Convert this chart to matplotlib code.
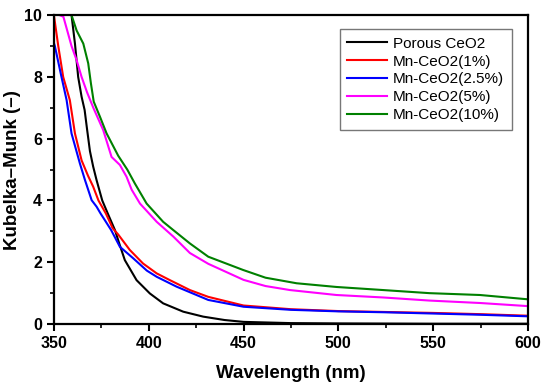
import numpy as np
import matplotlib
matplotlib.use("Agg")
import matplotlib.pyplot as plt
from matplotlib.ticker import MultipleLocator

plt.rcParams['font.family'] = ['Liberation Sans', 'DejaVu Sans']

# wavelength (nm) / Kubelka-Munk values
wl_ceo2 = [355, 359.3, 361.1, 362.8, 364.6, 366.2, 367.5, 369, 370.7, 372.5, 375.5, 378.6,
           382.2, 384.5, 387.4, 393.6, 400.6, 407.6, 418.2, 428.7, 440, 450, 475, 500, 550, 600]
km_ceo2 = [12.0, 10.0, 9.08, 8.0, 7.36, 6.93, 6.3, 5.6, 5.1, 4.66, 4.0, 3.55,
           3.04, 2.6, 2.07, 1.42, 0.99, 0.67, 0.4, 0.24, 0.13, 0.07, 0.03, 0.02, 0.01, 0.01]

wl_mn1 = [350, 352.3, 354.9, 358.4, 361.1, 364.6, 368, 370.7, 373.5, 377.4, 381, 383.9,
          390, 397, 404.2, 411.2, 421.7, 431.4, 450, 475, 500, 525, 550, 575, 600]
km_mn1 = [10.0, 9.0, 8.0, 7.25, 6.17, 5.3, 4.8, 4.45, 4.0, 3.58, 3.1, 2.9,
          2.4, 1.96, 1.64, 1.42, 1.1, 0.88, 0.6, 0.48, 0.42, 0.39, 0.36, 0.32, 0.27]

wl_mn25 = [350, 350.5, 354, 356.7, 359.3, 363.7, 366.4, 369.9, 372.5, 374.6, 377, 380.2,
           384.8, 391.8, 399, 404.2, 414.7, 431.4, 450, 475, 500, 525, 550, 575, 600]
km_mn25 = [9.1, 9.0, 8.0, 7.25, 6.17, 5.2, 4.66, 4.01, 3.8, 3.58, 3.35, 3.04,
           2.5, 2.13, 1.73, 1.53, 1.21, 0.78, 0.56, 0.46, 0.41, 0.38, 0.34, 0.3, 0.25]

wl_mn5 = [350, 353, 355, 359.3, 362, 364.6, 367.5, 370.8, 376, 380.4, 384.8, 388.3,
          391, 395.4, 404.2, 413, 421.7, 431.4, 450, 461.6, 474.5, 499, 523.7, 548, 575, 600]
km_mn5 = [11.0, 10.0, 9.95, 9.0, 8.54, 8.0, 7.5, 7.0, 6.28, 5.41, 5.15, 4.77,
          4.35, 3.9, 3.31, 2.83, 2.3, 1.95, 1.43, 1.23, 1.1, 0.94, 0.86, 0.76, 0.68, 0.58]

wl_mn10 = [357, 359.3, 362, 365.5, 368.1, 369.5, 371, 374.3, 377.8, 383.9, 388.7, 392.7,
           398.9, 407.6, 413, 421.7, 431.4, 449.8, 461.6, 478, 499, 523.7, 548, 574.7, 600]
km_mn10 = [11.0, 10.0, 9.5, 9.08, 8.44, 7.8, 7.2, 6.71, 6.17, 5.45, 5.0, 4.55,
           3.9, 3.31, 3.04, 2.61, 2.18, 1.75, 1.5, 1.32, 1.2, 1.1, 1.0, 0.94, 0.8]

labels = ['Porous CeO2', 'Mn-CeO2(1%)', 'Mn-CeO2(2.5%)', 'Mn-CeO2(5%)', 'Mn-CeO2(10%)']
colors = ['black', 'red', 'blue', 'magenta', 'green']

fig = plt.figure(figsize=(5.5, 3.89), dpi=100)
ax = fig.add_axes([0.098, 0.167, 0.862, 0.794])

series = [(wl_ceo2, km_ceo2), (wl_mn1, km_mn1), (wl_mn25, km_mn25),
          (wl_mn5, km_mn5), (wl_mn10, km_mn10)]
for (x, y), lab, c in zip(series, labels, colors):
    ax.plot(x, y, color=c, linewidth=1.5, label=lab)

ax.set_xlim(350, 600)
ax.set_ylim(0, 10)
ax.xaxis.set_major_locator(MultipleLocator(50))
ax.xaxis.set_minor_locator(MultipleLocator(25))
ax.yaxis.set_major_locator(MultipleLocator(2))
ax.yaxis.set_minor_locator(MultipleLocator(1))

ax.tick_params(which='major', direction='out', length=5, width=1.5, labelsize=11.5)
ax.tick_params(which='minor', direction='out', length=3, width=1.2)
for lbl in ax.get_xticklabels() + ax.get_yticklabels():
    lbl.set_fontweight('bold')
for s in ax.spines.values():
    s.set_linewidth(1.6)

ax.set_xlabel('Wavelength (nm)', fontsize=13.5, fontweight='bold', labelpad=10)
ax.set_ylabel('Kubelka\u2013Munk (\u2013)', fontsize=13.5, fontweight='bold', labelpad=2)

# legend box with a thin grey frame
leg = ax.legend(loc='upper right', bbox_to_anchor=(0.966, 0.955), borderaxespad=0,
                fontsize=11, frameon=True, fancybox=False, edgecolor='#555555',
                handlelength=2.6, labelspacing=0.25, borderpad=0.5, handletextpad=0.4)
leg.get_frame().set_linewidth(1.0)

plt.savefig('out.png', dpi=100)
